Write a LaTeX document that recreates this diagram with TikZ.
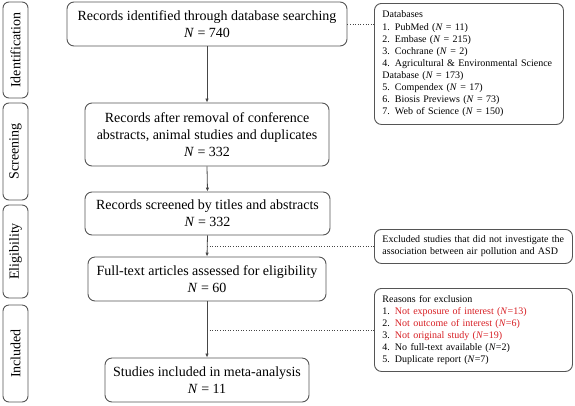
\documentclass[tikz,border=0pt]{standalone}
\usepackage{fontspec}
\setmainfont{Liberation Serif}
\usetikzlibrary{arrows.meta}
\definecolor{boxgray}{RGB}{85,85,85}
\definecolor{linegray}{RGB}{70,70,70}
\definecolor{exred}{RGB}{215,30,35}
\begin{document}
\begin{tikzpicture}[x=1pt,y=-1pt,
  box/.style={draw=boxgray, line width=0.9pt, rounded corners=7pt, align=center,
    font=\fontsize{14}{16.8}\selectfont, inner sep=0pt},
  side/.style={draw=boxgray, line width=0.9pt, rounded corners=6pt, rotate=90,
    font=\fontsize{14}{16.8}\selectfont, inner sep=0pt, minimum height=25pt},
  note/.style={draw=boxgray, line width=0.9pt, rounded corners=7pt, align=left,
    font=\fontsize{10}{12.1}\selectfont, inner xsep=8pt, inner ysep=0pt, anchor=north west},
  arr/.style={draw=linegray, line width=0.8pt, -{Latex[length=4pt,width=3.5pt]}},
  dotline/.style={draw=linegray, line width=0.6pt, dotted}]
\useasboundingbox (0,0) rectangle (575,405);

% side labels
\node[side, minimum width=96pt] (s1) at (15.5,50) {Identification};
\node[side, minimum width=97pt] (s2) at (15.5,151.5) {Screening};
\node[side, minimum width=93pt] (s3) at (15.5,251.5) {Eligibility};
\node[side, minimum width=97pt] (s4) at (15.5,353.5) {Included};

% main boxes
\node[box, minimum width=280pt, minimum height=44pt] (b1) at (207,24)
  {Records identified through database searching\\ \textit{N} = 740};
\node[box, minimum width=244pt, minimum height=63pt] (b2) at (207,134.5)
  {Records after removal of conference\\ abstracts, animal studies and duplicates\\ \textit{N} = 332};
\node[box, minimum width=245pt, minimum height=43pt] (b3) at (207.5,213.5)
  {Records screened by titles and abstracts\\ \textit{N} = 332};
\node[box, minimum width=238pt, minimum height=44pt] (b4) at (207,279)
  {Full-text articles assessed for eligibility\\ \textit{N} = 60};
\node[box, minimum width=204pt, minimum height=44pt] (b5) at (207,380)
  {Studies included in meta-analysis\\ \textit{N} = 11};

% side notes
\node[note, text width=173pt, minimum height=121pt] (db) at (374,3)
  {Databases\\
   1. PubMed (\textit{N} = 11)\\
   2. Embase (\textit{N} = 215)\\
   3. Cochrane (\textit{N} = 2)\\
   4. Agricultural \& Environmental Science\\
   Database (\textit{N} = 173)\\
   5. Compendex (\textit{N} = 17)\\
   6. Biosis Previews (\textit{N} = 73)\\
   7. Web of Science (\textit{N} = 150)};
\node[note, text width=182pt, minimum height=34pt] (ex) at (374,229)
  {Excluded studies that did not investigate the\\
   association between air pollution and ASD};
\node[note, text width=182pt, minimum height=83pt] (rs) at (374,288)
  {Reasons for exclusion\\
   1. \textcolor{exred}{Not exposure of interest (\textit{N}=13)}\\
   2. \textcolor{exred}{Not outcome of interest (\textit{N}=6)}\\
   3. \textcolor{exred}{Not original study (\textit{N}=19)}\\
   4. No full-text available (\textit{N}=2)\\
   5. Duplicate report (\textit{N}=7)};

% arrows
\draw[arr] (b1.south) -- (b2.north);
\draw[arr] (b2.south) -- (b3.north);
\draw[arr] (b3.south) -- (b4.north);
\draw[arr] (b4.south) -- (b5.north);

% dotted connectors
\draw[dotline] (b1.east) -- (b1.east -| db.west);
\draw[dotline] (b1.south |- ex.west) -- (ex.west);
\draw[dotline] (b1.south |- rs.west) -- (rs.west);
\end{tikzpicture}
\end{document}
